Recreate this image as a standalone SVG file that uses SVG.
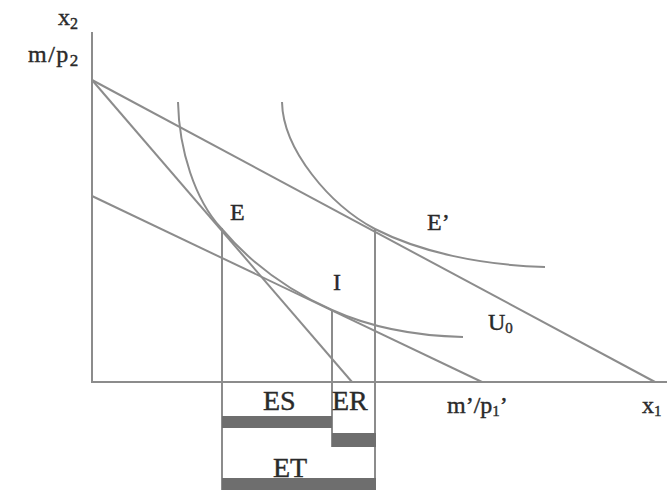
<svg xmlns="http://www.w3.org/2000/svg" width="667" height="497" viewBox="0 0 667 497">
<style>
.ln{stroke:#8c8c8c;stroke-width:2;fill:none}
.bar{fill:#6e6e6e}
text{font-family:"Liberation Serif","Times New Roman",serif;fill:#2a2a2a;stroke:#2a2a2a;stroke-width:0.4;font-size:24px}
.big{font-size:28px}
</style>
<rect width="667" height="497" fill="#ffffff"/>
<g id="axes">
  <line class="ln" x1="92" y1="32" x2="92" y2="383"/>
  <line class="ln" x1="91" y1="382" x2="667" y2="382"/>
</g>
<g id="connectors">
  <line class="ln" x1="92" y1="80" x2="655" y2="382"/>
  <line class="ln" x1="92" y1="80" x2="352" y2="382"/>
  <line class="ln" x1="92" y1="196" x2="482" y2="382"/>
  <path class="ln" d="M178,102 C179,150 195,200 221,228 C253,266 294,293 332,310 C372,328 420,336 463,337"/>
  <path class="ln" d="M282,102 C283,150 330,205 375,229 C420,252 480,265 545,267"/>
  <line class="ln" x1="222" y1="228" x2="222" y2="490"/>
  <line class="ln" x1="332" y1="311" x2="332" y2="447"/>
  <line class="ln" x1="375" y1="229" x2="375" y2="489"/>
</g>
<g id="bars">
  <rect class="bar" x="222" y="416" width="110" height="12"/>
  <rect class="bar" x="332" y="433" width="44" height="14"/>
  <rect class="bar" x="222" y="478" width="154" height="12"/>
</g>
<g id="labels">
  <text x="58" y="25">x<tspan font-size="16" dy="4">2</tspan></text>
  <text x="28" y="62" letter-spacing="1.5">m/p<tspan font-size="17" dy="4">2</tspan></text>
  <text x="230" y="220">E</text>
  <text x="427" y="230">E’</text>
  <text x="333" y="290">I</text>
  <text x="488" y="330">U<tspan font-size="15" dy="3">0</tspan></text>
  <text class="big" x="263" y="410">ES</text>
  <text class="big" x="332" y="410">ER</text>
  <text class="big" x="273" y="477">ET</text>
  <text x="447" y="413">m’/p<tspan font-size="15" dy="3">1</tspan><tspan dy="-3">’</tspan></text>
  <text x="642" y="413">x<tspan font-size="15" dy="3">1</tspan></text>
</g>
</svg>
